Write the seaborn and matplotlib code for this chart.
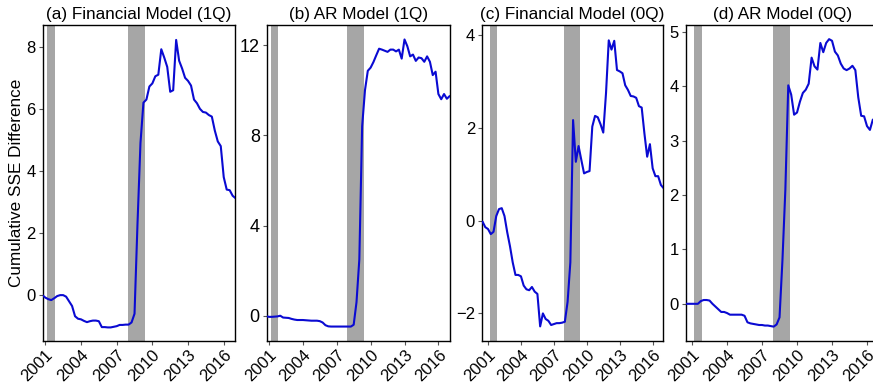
import numpy as np
import matplotlib
matplotlib.use("Agg")
import matplotlib.pyplot as plt
import seaborn as sns

# quarterly sample (1Q panels start one quarter later than 0Q panels)
start_1q = 2000.75
start_0q = 2000.5

fin_1q = [0.0, -0.08, -0.13, -0.16, -0.1, -0.03, 0.0, 0.0, -0.05, -0.2,
          -0.35, -0.68, -0.76, -0.78, -0.83, -0.87, -0.84, -0.82, -0.82, -0.84,
          -1.03, -1.03, -1.04, -1.04, -1.02, -1.0, -0.96, -0.96, -0.95, -0.95,
          -0.88, -0.6, 2.3, 4.9, 6.2, 6.3, 6.72, 6.82, 7.05, 7.1,
          7.92, 7.65, 7.35, 6.55, 6.6, 8.22, 7.55, 7.3, 7.0, 6.9,
          6.75, 6.3, 6.18, 6.0, 5.9, 5.88, 5.8, 5.75, 5.3, 4.95,
          4.8, 3.8, 3.4, 3.38, 3.2, 3.12]

ar_1q = [-0.02, -0.05, -0.05, -0.04, -0.03, 0.0, -0.08, -0.09, -0.1, -0.14,
         -0.17, -0.19, -0.19, -0.19, -0.2, -0.21, -0.22, -0.22, -0.22, -0.24,
         -0.3, -0.42, -0.47, -0.48, -0.48, -0.48, -0.48, -0.48, -0.48, -0.48,
         -0.48, -0.4, 0.6, 2.5, 8.4, 10.0, 10.86, 11.0, 11.25, 11.55,
         11.84, 11.8, 11.75, 11.7, 11.8, 11.8, 11.72, 11.8, 11.4, 12.25,
         11.95, 11.5, 11.58, 11.3, 11.45, 11.42, 11.26, 11.5, 11.26, 10.67,
         10.82, 9.83, 9.6, 9.83, 9.62, 9.74]

fin_0q = [-0.02, -0.14, -0.18, -0.29, -0.24, 0.1, 0.25, 0.27, 0.1, -0.25,
          -0.55, -0.9, -1.17, -1.17, -1.2, -1.4, -1.48, -1.5, -1.43, -1.53,
          -1.58, -2.28, -2.0, -2.12, -2.16, -2.25, -2.23, -2.21, -2.21, -2.2,
          -2.18, -1.75, -0.9, 2.17, 1.27, 1.61, 1.31, 1.02, 1.05, 1.07,
          2.03, 2.26, 2.23, 2.08, 1.9, 2.75, 3.89, 3.69, 3.88, 3.25,
          3.22, 3.18, 2.92, 2.82, 2.69, 2.68, 2.65, 2.47, 2.44, 1.88,
          1.38, 1.65, 1.13, 0.96, 0.96, 0.77, 0.7]

ar_0q = [0.0, 0.0, 0.0, 0.0, 0.0, 0.05, 0.07, 0.07, 0.06, 0.0,
         -0.05, -0.1, -0.15, -0.15, -0.17, -0.2, -0.2, -0.2, -0.2, -0.2,
         -0.22, -0.34, -0.36, -0.37, -0.38, -0.39, -0.39, -0.4, -0.4, -0.41,
         -0.42, -0.38, -0.25, 0.8, 2.1, 4.02, 3.85, 3.48, 3.52, 3.72,
         3.88, 3.94, 4.05, 4.53, 4.37, 4.31, 4.8, 4.63, 4.8, 4.87,
         4.84, 4.64, 4.57, 4.42, 4.33, 4.3, 4.33, 4.38, 4.3, 3.8,
         3.46, 3.45, 3.27, 3.2, 3.39]

titles = ["(a) Financial Model (1Q)", "(b) AR Model (1Q)",
          "(c) Financial Model (0Q)", "(d) AR Model (0Q)"]
recessions = [(2001.17, 2001.83), (2007.92, 2009.42)]
year_ticks = [2001, 2004, 2007, 2010, 2013, 2016]

series = [(start_1q, fin_1q), (start_1q, ar_1q), (start_0q, fin_0q), (start_0q, ar_0q)]
ylims = [(-1.47, 8.70), (-1.11, 12.89), (-2.59, 4.22), (-0.68, 5.13)]
yticks = [[0, 2, 4, 6, 8], [0, 4, 8, 12], [-2, 0, 2, 4], [0, 1, 2, 3, 4, 5]]
xlims = [(2000.78, 2016.97), (2000.8, 2017.03), (2000.45, 2016.97), (2000.46, 2017.0)]
# axes boxes in figure fractions [left, bottom, width, height]
boxes = [[0.0489, 0.1149, 0.2206, 0.8201],
         [0.3055, 0.1149, 0.2100, 0.8201],
         [0.5521, 0.1149, 0.2077, 0.8201],
         [0.7855, 0.1149, 0.2210, 0.8201]]

sns.set_theme(style="white")
plt.rcParams['font.family'] = ['Liberation Sans', 'DejaVu Sans']
plt.rcParams['text.color'] = 'black'
plt.rcParams['axes.labelcolor'] = 'black'
plt.rcParams['xtick.labelcolor'] = 'black'
plt.rcParams['ytick.labelcolor'] = 'black'

fig = plt.figure(figsize=(8.73, 3.85), dpi=100)

for i in range(4):
    ax = fig.add_axes(boxes[i])
    start, vals = series[i]
    x = start + 0.25 * np.arange(len(vals))
    for a, b in recessions:
        ax.axvspan(a, b, color="#a6a6a6", lw=0, zorder=0)
    sns.lineplot(x=x, y=vals, ax=ax, color="#0a0ad2", lw=1.5, zorder=3)
    ax.set_xlim(*xlims[i])
    ax.set_ylim(*ylims[i])
    ax.set_xticks(year_ticks)
    ax.set_xticklabels([str(t) for t in year_ticks], rotation=45,
                       ha="right", rotation_mode="anchor", fontsize=12)
    ax.set_yticks(yticks[i])
    ax.set_yticklabels(["\u2212" + str(-t) if t < 0 else str(t) for t in yticks[i]],
                       fontsize=13 if i == 1 else 12)
    ax.tick_params(axis="both", direction="out", length=3, width=0.8,
                   color="#555555", pad=2, bottom=True, left=True)
    ax.set_title(titles[i], fontsize=12.3, pad=4, color="black")
    for s in ax.spines.values():
        s.set_color("black")
        s.set_linewidth(1.0)
    ax.grid(False)
    if i == 0:
        ax.set_ylabel("Cumulative SSE Difference", fontsize=12.3, labelpad=2)

fig.savefig("out.png", dpi=100)
